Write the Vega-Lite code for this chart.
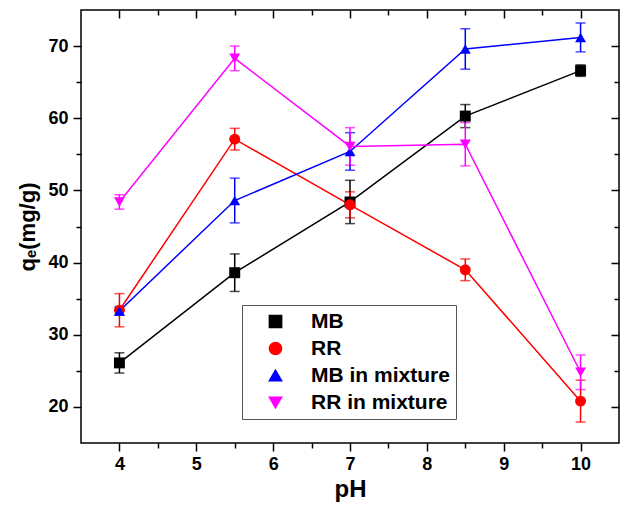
{
  "$schema": "https://vega.github.io/schema/vega-lite/v6.json",
  "width": 538,
  "height": 433,
  "autosize": {"type": "none"},
  "padding": {"left": 81, "top": 10, "right": 1, "bottom": 66},
  "background": "white",
  "config": {
    "view": {"stroke": "#000", "strokeWidth": 1.5},
    "font": "Liberation Sans",
    "axis": {"domain": false, "grid": false, "tickColor": "#000", "tickWidth": 1.5, "labelFont": "Liberation Sans", "labelFontWeight": "bold", "labelFontSize": 18, "labelColor": "#000", "titleFont": "Liberation Sans", "titleFontWeight": "bold", "titleColor": "#000"},
    "legend": {"orient": "none", "legendX": 161, "legendY": 295, "title": null, "symbolSize": 150, "labelFontSize": 21, "labelFontWeight": "bold", "labelFont": "Liberation Sans", "labelColor": "#000", "padding": 6, "rowPadding": 5, "symbolOffset": 17, "labelOffset": 25, "strokeColor": "#555", "fillColor": "#fff", "labelLimit": 300, "symbolOpacity": 1}
  },
  "data": {"values": [
    {"series": "MB", "pH": 4, "q": 26.1, "err": 1.4},
    {"series": "MB", "pH": 5.5, "q": 38.6, "err": 2.6},
    {"series": "MB", "pH": 7, "q": 48.4, "err": 3.0},
    {"series": "MB", "pH": 8.5, "q": 60.3, "err": 1.6},
    {"series": "MB", "pH": 10, "q": 66.6, "err": 0.8},
    {"series": "RR", "pH": 4, "q": 33.4, "err": 2.3},
    {"series": "RR", "pH": 5.5, "q": 57.1, "err": 1.5},
    {"series": "RR", "pH": 7, "q": 48.0, "err": 1.8},
    {"series": "RR", "pH": 8.5, "q": 39.0, "err": 1.5},
    {"series": "RR", "pH": 10, "q": 20.8, "err": 2.9},
    {"series": "MB in mixture", "pH": 4, "q": 33.3, "err": 0.6},
    {"series": "MB in mixture", "pH": 5.5, "q": 48.6, "err": 3.1},
    {"series": "MB in mixture", "pH": 7, "q": 55.4, "err": 2.6},
    {"series": "MB in mixture", "pH": 8.5, "q": 69.6, "err": 2.8},
    {"series": "MB in mixture", "pH": 10, "q": 71.2, "err": 2.0},
    {"series": "RR in mixture", "pH": 4, "q": 48.4, "err": 1.0},
    {"series": "RR in mixture", "pH": 5.5, "q": 68.3, "err": 1.7},
    {"series": "RR in mixture", "pH": 7, "q": 56.1, "err": 2.6},
    {"series": "RR in mixture", "pH": 8.5, "q": 56.4, "err": 3.0},
    {"series": "RR in mixture", "pH": 10, "q": 24.8, "err": 2.4}
  ]},
  "layer": [
    {
      "mark": {"type": "line", "strokeWidth": 1.5},
      "encoding": {
        "x": {"field": "pH", "type": "quantitative", "scale": {"domain": [3.5, 10.5], "nice": false, "zero": false},
          "axis": {"orient": "bottom", "values": [4, 5, 6, 7, 8, 9, 10], "tickSize": 8, "labelPadding": 4, "title": "pH", "titleFontSize": 24, "titlePadding": 4}},
        "y": {"field": "q", "type": "quantitative", "scale": {"domain": [15, 75], "nice": false, "zero": false},
          "axis": {"orient": "left", "values": [20, 30, 40, 50, 60, 70], "tickSize": 8, "labelPadding": 5, "title": "qₑ(mg/g)", "titleFontSize": 22, "titlePadding": 8}},
        "color": {"field": "series", "type": "nominal", "scale": {"domain": ["MB", "RR", "MB in mixture", "RR in mixture"], "range": ["#000000", "#ff0000", "#0000ff", "#ff00ff"]}}
      }
    },
    {
      "mark": {"type": "errorbar", "ticks": {"size": 10, "thickness": 1.5}, "thickness": 1.5},
      "encoding": {
        "x": {"field": "pH", "type": "quantitative", "axis": {"orient": "bottom", "values": [4.5, 5.5, 6.5, 7.5, 8.5, 9.5], "tickSize": 5, "labels": false, "title": null}},
        "y": {"field": "q", "type": "quantitative", "axis": {"orient": "left", "values": [25, 35, 45, 55, 65], "tickSize": 5, "labels": false, "title": null}},
        "yError": {"field": "err"},
        "color": {"field": "series", "type": "nominal"}
      }
    },
    {
      "mark": {"type": "point", "filled": true, "size": 120, "opacity": 1},
      "encoding": {
        "x": {"field": "pH", "type": "quantitative", "axis": {"orient": "top", "values": [4, 5, 6, 7, 8, 9, 10], "tickSize": -8, "labels": false, "title": null}},
        "y": {"field": "q", "type": "quantitative", "axis": {"orient": "right", "values": [20, 30, 40, 50, 60, 70], "tickSize": -8, "labels": false, "title": null}},
        "color": {"field": "series", "type": "nominal"},
        "shape": {"field": "series", "type": "nominal", "scale": {"domain": ["MB", "RR", "MB in mixture", "RR in mixture"], "range": ["square", "circle", "triangle-up", "triangle-down"]}}
      }
    },
    {
      "mark": {"type": "point", "opacity": 0},
      "encoding": {
        "x": {"field": "pH", "type": "quantitative", "axis": {"orient": "top", "values": [4.5, 5.5, 6.5, 7.5, 8.5, 9.5], "tickSize": -5, "labels": false, "title": null}},
        "y": {"field": "q", "type": "quantitative", "axis": {"orient": "right", "values": [25, 35, 45, 55, 65], "tickSize": -5, "labels": false, "title": null}}
      }
    }
  ],
  "resolve": {"axis": {"x": "independent", "y": "independent"}}
}
